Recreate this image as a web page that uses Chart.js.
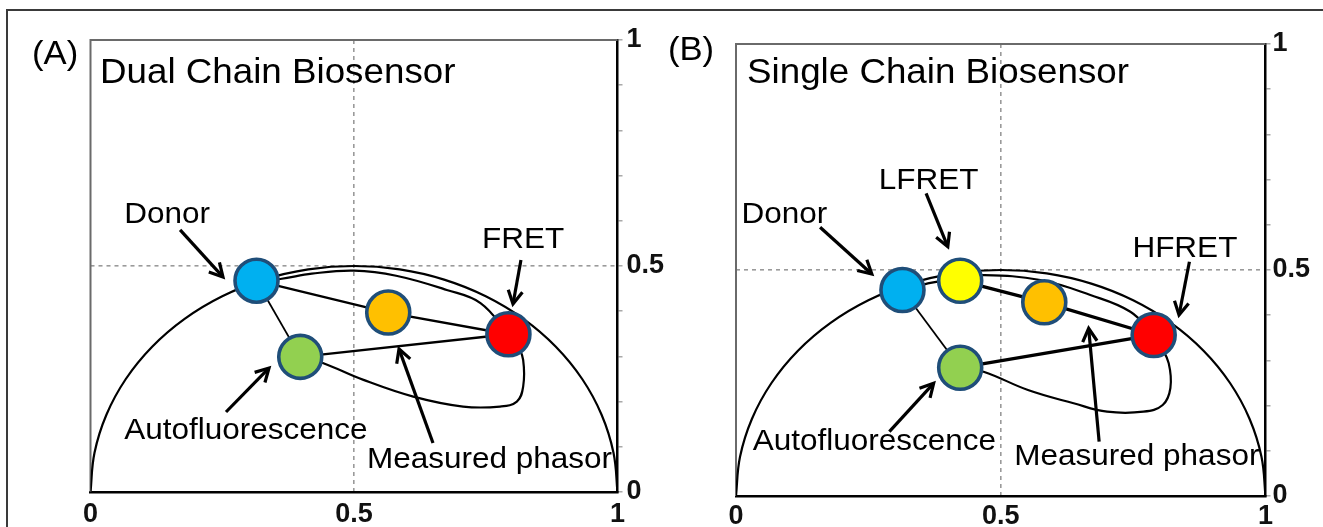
<!DOCTYPE html>
<html>
<head>
<meta charset="utf-8">
<script src="https://cdn.jsdelivr.net/npm/chart.js@4.4.1/dist/chart.umd.min.js"></script>
<style>
html,body{margin:0;padding:0;background:#fff;width:1323px;height:527px;overflow:hidden;position:relative}
#frame{position:absolute;left:6px;top:9px;width:1400px;height:600px;border-top:2px solid #3a3a3a;border-left:2px solid #3a3a3a}
canvas{position:absolute;top:0}
#ca{left:0}
#cb{left:660px}
</style>
</head>
<body>
<div id="frame"></div>
<canvas id="cb" width="663" height="527"></canvas>
<canvas id="ca" width="700" height="527"></canvas>
<script>
// ================= DATA =================
const xTickValues = [0, 0.5, 1];
const yLabelledTicks = [0, 0.5, 1];

// universal semicircle (g, s), read at 10-degree steps
const circleG = [0, 0.0076, 0.0302, 0.067, 0.117, 0.1786, 0.25, 0.329, 0.4132, 0.5, 0.5868, 0.671, 0.75, 0.8214, 0.883, 0.933, 0.9698, 0.9924, 1];
const circleS = [0, 0.0868, 0.171, 0.25, 0.3214, 0.383, 0.433, 0.4698, 0.4924, 0.5, 0.4924, 0.4698, 0.433, 0.383, 0.3214, 0.25, 0.171, 0.0868, 0];

// ---- Panel A: Dual Chain Biosensor ----
const panelTitleA = 'Dual Chain Biosensor';
const panelTagA = '(A)';
const markerNamesA = ['Donor', 'Measured phasor', 'FRET', 'Autofluorescence'];
const markerGA = [0.315, 0.565, 0.793, 0.398];
const markerSA = [0.4675, 0.397, 0.349, 0.299];
const innerGA = [0.315, 0.36, 0.42, 0.5, 0.58, 0.676, 0.74, 0.793];
const innerSA = [0.4675, 0.4712, 0.483, 0.4896, 0.4785, 0.447, 0.418, 0.349];
const loopGA = [0.398, 0.442, 0.518, 0.6125, 0.707, 0.777, 0.809, 0.821, 0.821, 0.81];
const loopSA = [0.299, 0.285, 0.248, 0.211, 0.189, 0.189, 0.2, 0.233, 0.292, 0.33];
const segmentsA = [[0, 1, 2], [0, 3], [3, 2]];
const labelTextsA = ['Donor', 'FRET', 'Autofluorescence', 'Measured phasor'];

// ---- Panel B: Single Chain Biosensor ----
const panelTitleB = 'Single Chain Biosensor';
const panelTagB = '(B)';
const markerNamesB = ['Donor', 'LFRET', 'Measured phasor', 'HFRET', 'Autofluorescence'];
const markerGB = [0.3144, 0.4234, 0.5822, 0.7888, 0.4234];
const markerSB = [0.4558, 0.4763, 0.4285, 0.3562, 0.2838];
const innerGB = [0.3144, 0.37, 0.4234, 0.4675, 0.5747, 0.6692, 0.7448, 0.7888];
const innerSB = [0.4558, 0.472, 0.4815, 0.4885, 0.4779, 0.4447, 0.4077, 0.3562];
const loopGB = [0.4234, 0.4675, 0.5514, 0.6376, 0.7008, 0.7694, 0.8059, 0.8204, 0.8172, 0.8015];
const loopSB = [0.2838, 0.275, 0.2345, 0.2051, 0.1865, 0.1865, 0.2013, 0.2389, 0.2936, 0.334];
const segmentsB = [[0, 4], [1, 2, 3], [4, 3]];
const labelTextsB = ['Donor', 'LFRET', 'HFRET', 'Autofluorescence', 'Measured phasor'];

// ================= LAYOUT / STYLE =================
const calloutsA = [
  {t: 0, at: [0.064, 0.595], from: [0.170, 0.580], to: [0.2514, 0.4757]},
  {t: 1, at: [0.743, 0.540], from: [0.8168, 0.5133], to: [0.8017, 0.4159]},
  {t: 2, at: [0.064, 0.1173], from: [0.2571, 0.177], to: [0.3387, 0.2743]},
  {t: 3, at: [0.5245, 0.0531], from: [0.6499, 0.1084], to: [0.5854, 0.3164]}
];
const calloutsB = [
  {t: 0, at: [0.0102, 0.6033], from: [0.1588, 0.5945], to: [0.2565, 0.4912]},
  {t: 1, at: [0.2696, 0.6786], from: [0.359, 0.6697], to: [0.400, 0.5516]},
  {t: 2, at: [0.7486, 0.5281], from: [0.8563, 0.5184], to: [0.8367, 0.4004]},
  {t: 3, at: [0.0316, 0.1018], from: [0.2896, 0.1423], to: [0.3733, 0.2493]},
  {t: 4, at: [0.5255, 0.0686], from: [0.6858, 0.1201], to: [0.666, 0.371]}
];
const FONT = '"Liberation Sans", Arial, Helvetica, sans-serif';
const TEXT_SX = 1.05;

function pts(gs, ss) { return gs.map((g, i) => ({x: g, y: ss[i]})); }

function drawText(ctx, text, p, size) {
  ctx.save();
  ctx.translate(p[0], p[1]);
  ctx.scale(TEXT_SX, 1);
  ctx.font = size + 'px ' + FONT;
  ctx.fillStyle = '#000';
  ctx.textBaseline = 'alphabetic';
  ctx.textAlign = 'left';
  ctx.fillText(text, 0, 0);
  ctx.restore();
}
function drawArrow(ctx, a, b) {
  const ang = Math.atan2(b[1] - a[1], b[0] - a[0]);
  const head = 15, spread = 0.5;
  ctx.save();
  ctx.strokeStyle = '#000';
  ctx.lineWidth = 3.2;
  ctx.lineCap = 'butt';
  ctx.lineJoin = 'miter';
  ctx.beginPath();
  ctx.moveTo(a[0], a[1]);
  ctx.lineTo(b[0] - 1.5 * Math.cos(ang), b[1] - 1.5 * Math.sin(ang));
  ctx.stroke();
  ctx.beginPath();
  ctx.moveTo(b[0] - head * Math.cos(ang - spread), b[1] - head * Math.sin(ang - spread));
  ctx.lineTo(b[0], b[1]);
  ctx.lineTo(b[0] - head * Math.cos(ang + spread), b[1] - head * Math.sin(ang + spread));
  ctx.stroke();
  ctx.restore();
}

const annotatePlugin = {
  id: 'annotate',
  beforeDatasetsDraw(chart) {
    const {ctx, chartArea: ca} = chart;
    ctx.save();
    ctx.strokeStyle = '#6a6a6a';
    ctx.lineWidth = 2;
    ctx.beginPath();
    ctx.moveTo(ca.left, ca.bottom);
    ctx.lineTo(ca.left, ca.top);
    ctx.lineTo(ca.right, ca.top);
    ctx.stroke();
    ctx.restore();
  },
  afterDatasetsDraw(chart, args, o) {
    const {ctx} = chart;
    const xs = chart.scales.x, ys = chart.scales.y;
    const P = v => [xs.getPixelForValue(v[0]), ys.getPixelForValue(v[1])];
    o.callouts.forEach(c => {
      drawArrow(ctx, P(c.from), P(c.to));
      drawText(ctx, o.texts[c.t], P(c.at), 30);
    });
    drawText(ctx, o.title, P(o.titleAt), 35);
    drawText(ctx, o.tag, P(o.tagAt), 33);
  }
};

function panelConfig(p) {
  const datasets = [];
  datasets.push({
    type: 'scatter', label: 'phasors', data: pts(p.markerG, p.markerS),
    pointRadius: 21.5, pointHoverRadius: 21.5, pointBorderWidth: 3.6, pointHoverBorderWidth: 3.6,
    pointBorderColor: '#1F4E79', pointBackgroundColor: p.markerColors, order: 0
  });
  p.segments.forEach((seg, k) => datasets.push({
    type: 'line', label: 'segment' + k,
    data: seg.map(i => ({x: p.markerG[i], y: p.markerS[i]})),
    borderColor: '#000', borderWidth: p.segWidths[k], pointRadius: 0, tension: 0, order: 1
  }));
  datasets.push({type: 'line', label: 'universal circle', data: pts(circleG, circleS),
    borderColor: '#000', borderWidth: 2.2, pointRadius: 0, tension: 0.4, order: 2});
  datasets.push({type: 'line', label: 'trajectory', data: pts(p.innerG, p.innerS),
    borderColor: '#000', borderWidth: 2.2, pointRadius: 0, tension: 0.4, order: 2});
  datasets.push({type: 'line', label: 'loop', data: pts(p.loopG, p.loopS),
    borderColor: '#000', borderWidth: 2.2, pointRadius: 0, tension: 0.4, order: 2});

  const tickFont = {family: FONT, size: 27, weight: 'bold'};
  return {
    type: 'scatter',
    data: {datasets},
    plugins: [annotatePlugin],
    options: {
      responsive: false, animation: false, devicePixelRatio: 1,
      events: [],
      layout: {padding: {left: p.area.left, top: p.area.top, right: 0, bottom: 0}},
      plugins: {
        legend: {display: false}, tooltip: {enabled: false},
        annotate: {callouts: p.callouts, texts: p.texts, title: p.title, titleAt: p.titleAt, tag: p.tag, tagAt: p.tagAt}
      },
      scales: {
        x: {
          type: 'linear', position: 'bottom', min: 0, max: 1,
          afterBuildTicks: s => { s.ticks = xTickValues.map(v => ({value: v})); },
          afterFit: s => { s.height = p.area.xAxisH; },
          ticks: {autoSkip: false, maxRotation: 0, padding: p.area.xPad, color: '#111', font: tickFont,
                  callback: v => String(v)},
          grid: {drawTicks: false, lineWidth: 1.6,
                 color: c => (c.tick && Math.abs(c.tick.value - 0.5) < 1e-6) ? '#9a9a9a' : 'rgba(0,0,0,0)'},
          border: {color: '#000', width: 2.5, dash: [4, 4]}
        },
        y: {
          type: 'linear', position: 'right', min: 0, max: 1,
          afterFit: s => { s.width = p.area.yAxisW; },
          ticks: {stepSize: 0.1, padding: p.area.yPad, color: '#111', font: tickFont,
                  callback: v => { const m = yLabelledTicks.find(t => Math.abs(t - v) < 1e-6); return m === undefined ? '' : String(m); }},
          grid: {drawTicks: true, tickLength: 5, tickColor: '#9a9a9a', tickWidth: 1.3, tickBorderDash: [], lineWidth: 1.6,
                 color: c => (c.tick && Math.abs(c.tick.value - 0.5) < 1e-6) ? '#9a9a9a' : 'rgba(0,0,0,0)'},
          border: {color: '#000', width: 2.5, dash: [4, 4]}
        }
      }
    }
  };
}

const markerColorsA = ['#00B0F0', '#FFC000', '#FF0000', '#92D050'];
const markerColorsB = ['#00B0F0', '#FFFF00', '#FFC000', '#FF0000', '#92D050'];

new Chart(document.getElementById('ca'), panelConfig({
  markerG: markerGA, markerS: markerSA, markerColors: markerColorsA,
  segments: segmentsA, segWidths: [2.4, 1.8, 2.4],
  innerG: innerGA, innerS: innerSA, loopG: loopGA, loopS: loopSA,
  callouts: calloutsA, texts: labelTextsA,
  title: panelTitleA, titleAt: [0.018, 0.905], tag: panelTagA, tagAt: [-0.111, 0.947],
  area: {left: 90.5, top: 40, xAxisH: 35, yAxisW: 82.5, xPad: 6, yPad: 4}
}));

new Chart(document.getElementById('cb'), panelConfig({
  markerG: markerGB, markerS: markerSB, markerColors: markerColorsB,
  segments: segmentsB, segWidths: [1.8, 3.3, 3.3],
  innerG: innerGB, innerS: innerSB, loopG: loopGB, loopS: loopSB,
  callouts: calloutsB, texts: labelTextsB,
  title: panelTitleB, titleAt: [0.0208, 0.9137], tag: panelTagB, tagAt: [-0.1285, 0.9646],
  area: {left: 76, top: 44, xAxisH: 31, yAxisW: 57.5, xPad: 4, yPad: 2}
}));
</script>
</body>
</html>
